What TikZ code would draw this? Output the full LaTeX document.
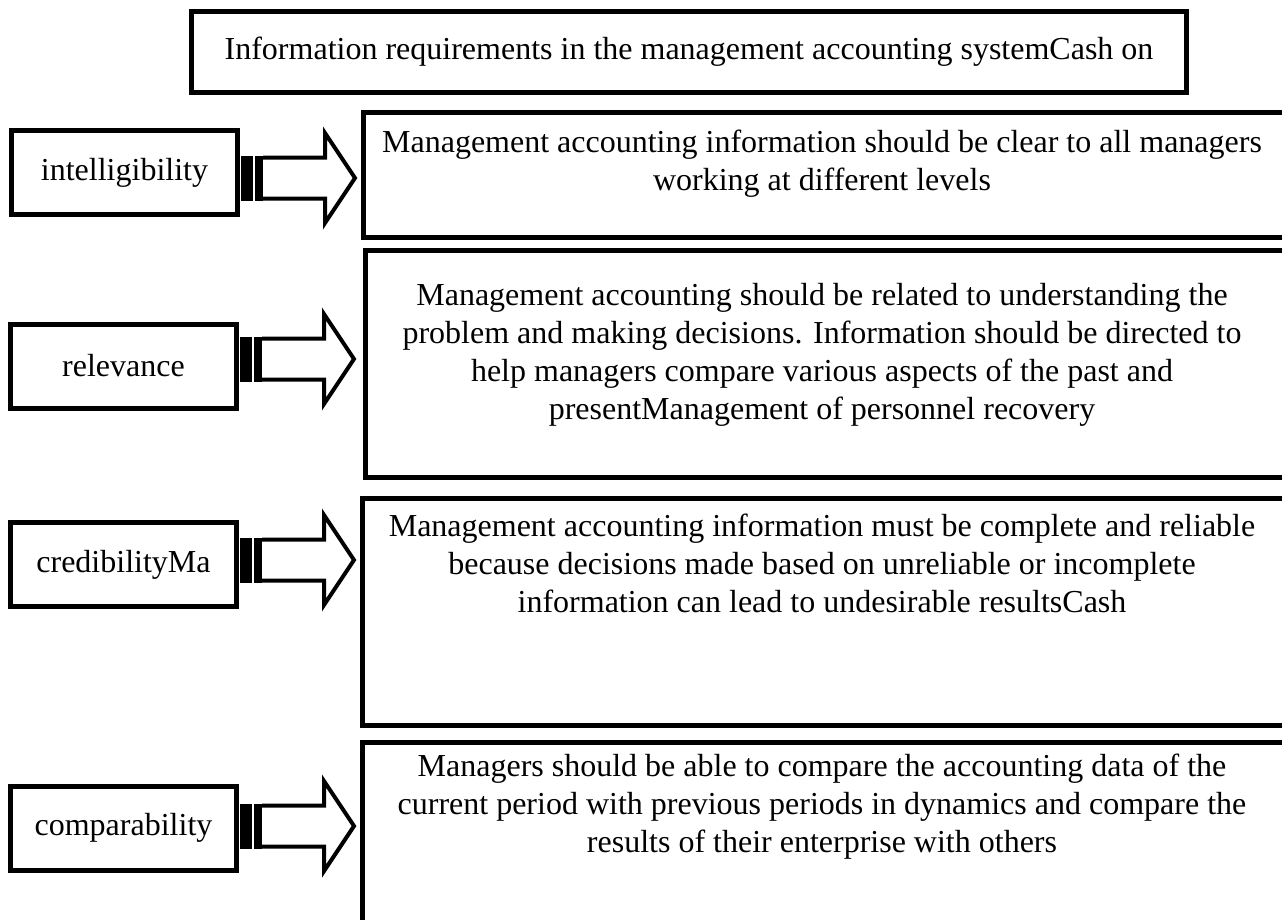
\documentclass[tikz,border=0pt]{standalone}
\usepackage{fontspec}
\setmainfont{Liberation Serif}
\usetikzlibrary{positioning,calc}

\tikzset{
  stripearrow/.pic={
    \fill (0,-22.5) rectangle (12,22.5);
    \fill (14,-22.5) rectangle (22,22.5);
    \draw[line width=4pt,line join=miter]
      (22,-20.5) -- (84,-20.5) -- (84,-45) -- (114,0)
      -- (84,45) -- (84,20.5) -- (22,20.5);
  }
}

\begin{document}
\begin{tikzpicture}[x=1pt,y=-1pt,
    every node/.style={font=\fontsize{32}{38}\selectfont},
    hbox/.style={draw,line width=5pt,inner sep=0pt,
                 minimum width=995pt,minimum height=81pt},
    lbox/.style={draw,line width=5pt,inner sep=0pt,
                 minimum width=226pt,minimum height=84pt},
    rbox/.style={draw,line width=5pt,inner sep=0pt,anchor=north west},
    rtext/.style={align=center,inner sep=0pt}]
  \useasboundingbox (0,0) rectangle (1282,919);

  \node[hbox] (title) at (689,52)
    {Information requirements in the management accounting systemCash on};

  % requirement names
  \node[lbox] (l1) at (124.5,172.5) {intelligibility};
  \node[lbox] (l2) at (123.5,366) {relevance\hspace{18pt}};
  \node[lbox] (l3) at (123.5,564.5) {credibilityMa};
  \node[lbox] (l4) at (123.5,828) {comparability};

  % descriptions (run off the page on the right and at the bottom)
  \node[rbox,minimum width=929.5pt,minimum height=125pt] (r1) at (360.5,109.5) {};
  \node[rbox,minimum width=927.5pt,minimum height=227pt] (r2) at (362.5,247.5) {};
  \node[rbox,minimum width=924.5pt,minimum height=227pt] (r3) at (359.5,495.5) {};
  \node[rbox,minimum width=924.5pt,minimum height=200pt] (r4) at (359.5,739.5) {};

  \node[rtext] (t1) at (822,164) {Management accounting information should be clear to all managers\\
    working at different levels};
  \node[rtext] (t2) at (822,355) {Management accounting should be related to understanding the\\
    problem and making decisions. Information should be directed to\\
    help managers compare various aspects of the past and\\
    presentManagement of personnel recovery};
  \node[rtext] (t3) at (822,563) {Management accounting information must be complete and reliable\\
    because decisions made based on unreliable or incomplete\\
    information can lead to undesirable resultsCash};
  \node[rtext] (t4) at (822,807) {Managers should be able to compare the accounting data of the\\
    current period with previous periods in dynamics and compare the\\
    results of their enterprise with others};

  % striped block arrows
  \pic at ($(l1.east)+(1,5.5)$) {stripearrow};
  \pic at ($(l2.east)+(1,-7)$) {stripearrow};
  \pic at ($(l3.east)+(1,-4.5)$) {stripearrow};
  \pic at ($(l4.east)+(1,-2)$) {stripearrow};
\end{tikzpicture}
\end{document}
